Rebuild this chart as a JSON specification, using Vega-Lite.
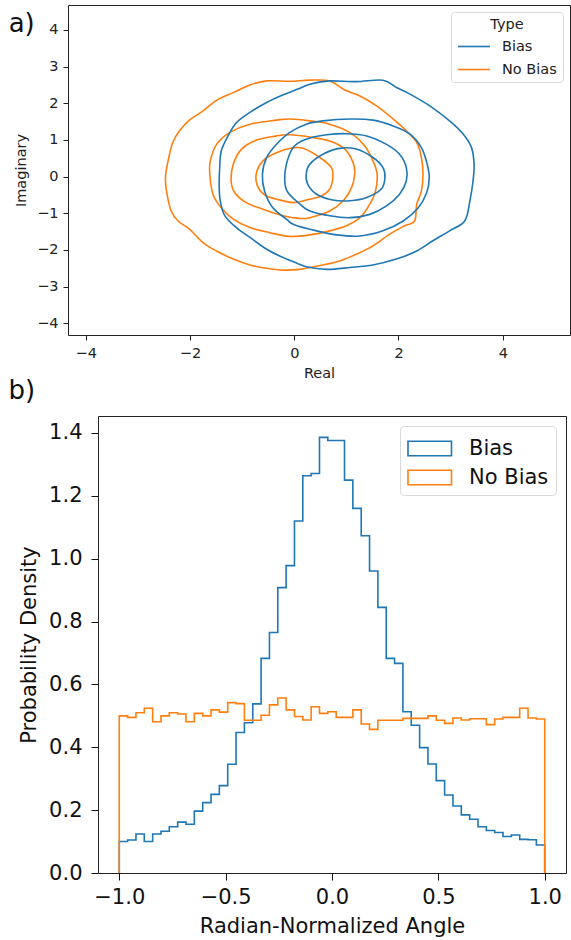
{
  "$schema": "https://vega.github.io/schema/vega-lite/v6.json",
  "background": "white",
  "padding": {"left": 8, "top": 4, "right": 0, "bottom": 0},
  "spacing": -4,
  "config": {
    "font": "DejaVu Sans",
    "view": {"stroke": "#222", "strokeWidth": 1},
    "axis": {"grid": false, "domain": false, "tickColor": "#222", "labelColor": "#222", "titleColor": "#222", "titleFontWeight": "normal"},
    "title": {"fontWeight": "normal", "color": "#111"}
  },
  "resolve": {"scale": {"color": "independent"}, "legend": {"color": "independent"}},
  "datasets": {
    "kde": [
      {"t":"No Bias","c":"O1","i":1,"x":0.68,"y":2.61},{"t":"No Bias","c":"O1","i":2,"x":0.30,"y":2.63},{"t":"No Bias","c":"O1","i":3,"x":-0.09,"y":2.60},{"t":"No Bias","c":"O1","i":4,"x":-0.53,"y":2.61},{"t":"No Bias","c":"O1","i":5,"x":-0.85,"y":2.50},{"t":"No Bias","c":"O1","i":6,"x":-1.17,"y":2.29},{"t":"No Bias","c":"O1","i":7,"x":-1.49,"y":2.08},{"t":"No Bias","c":"O1","i":8,"x":-1.75,"y":1.79},{"t":"No Bias","c":"O1","i":9,"x":-2.01,"y":1.54},{"t":"No Bias","c":"O1","i":10,"x":-2.20,"y":1.25},{"t":"No Bias","c":"O1","i":11,"x":-2.33,"y":0.93},{"t":"No Bias","c":"O1","i":12,"x":-2.42,"y":0.43},{"t":"No Bias","c":"O1","i":13,"x":-2.47,"y":-0.03},{"t":"No Bias","c":"O1","i":14,"x":-2.44,"y":-0.48},{"t":"No Bias","c":"O1","i":15,"x":-2.36,"y":-0.94},{"t":"No Bias","c":"O1","i":16,"x":-2.23,"y":-1.21},{"t":"No Bias","c":"O1","i":17,"x":-2.01,"y":-1.43},{"t":"No Bias","c":"O1","i":18,"x":-1.75,"y":-1.80},{"t":"No Bias","c":"O1","i":19,"x":-1.49,"y":-2.03},{"t":"No Bias","c":"O1","i":20,"x":-1.17,"y":-2.25},{"t":"No Bias","c":"O1","i":21,"x":-0.85,"y":-2.41},{"t":"No Bias","c":"O1","i":22,"x":-0.53,"y":-2.50},{"t":"No Bias","c":"O1","i":23,"x":-0.21,"y":-2.55},{"t":"No Bias","c":"O1","i":24,"x":0.10,"y":-2.53},{"t":"No Bias","c":"O1","i":25,"x":0.55,"y":-2.41},{"t":"No Bias","c":"O1","i":26,"x":0.87,"y":-2.30},{"t":"No Bias","c":"O1","i":27,"x":1.19,"y":-2.12},{"t":"No Bias","c":"O1","i":28,"x":1.51,"y":-1.89},{"t":"No Bias","c":"O1","i":29,"x":1.83,"y":-1.57},{"t":"No Bias","c":"O1","i":30,"x":2.12,"y":-1.34},{"t":"No Bias","c":"O1","i":31,"x":2.31,"y":-1.21},{"t":"No Bias","c":"O1","i":32,"x":2.35,"y":-0.75},{"t":"No Bias","c":"O1","i":33,"x":2.44,"y":-0.39},{"t":"No Bias","c":"O1","i":34,"x":2.47,"y":0.07},{"t":"No Bias","c":"O1","i":35,"x":2.44,"y":0.52},{"t":"No Bias","c":"O1","i":36,"x":2.35,"y":0.93},{"t":"No Bias","c":"O1","i":37,"x":2.15,"y":1.25},{"t":"No Bias","c":"O1","i":38,"x":1.90,"y":1.57},{"t":"No Bias","c":"O1","i":39,"x":1.58,"y":1.93},{"t":"No Bias","c":"O1","i":40,"x":1.26,"y":2.20},{"t":"No Bias","c":"O1","i":41,"x":0.97,"y":2.36},
      {"t":"No Bias","c":"O2","i":1,"x":0.68,"y":1.43},{"t":"No Bias","c":"O2","i":2,"x":0.30,"y":1.52},{"t":"No Bias","c":"O2","i":3,"x":-0.09,"y":1.57},{"t":"No Bias","c":"O2","i":4,"x":-0.34,"y":1.54},{"t":"No Bias","c":"O2","i":5,"x":-0.85,"y":1.43},{"t":"No Bias","c":"O2","i":6,"x":-1.24,"y":1.20},{"t":"No Bias","c":"O2","i":7,"x":-1.49,"y":0.88},{"t":"No Bias","c":"O2","i":8,"x":-1.61,"y":0.43},{"t":"No Bias","c":"O2","i":9,"x":-1.62,"y":0.07},{"t":"No Bias","c":"O2","i":10,"x":-1.56,"y":-0.48},{"t":"No Bias","c":"O2","i":11,"x":-1.40,"y":-0.85},{"t":"No Bias","c":"O2","i":12,"x":-1.17,"y":-1.16},{"t":"No Bias","c":"O2","i":13,"x":-0.85,"y":-1.39},{"t":"No Bias","c":"O2","i":14,"x":-0.47,"y":-1.53},{"t":"No Bias","c":"O2","i":15,"x":-0.09,"y":-1.63},{"t":"No Bias","c":"O2","i":16,"x":0.30,"y":-1.59},{"t":"No Bias","c":"O2","i":17,"x":0.68,"y":-1.48},{"t":"No Bias","c":"O2","i":18,"x":1.00,"y":-1.34},{"t":"No Bias","c":"O2","i":19,"x":1.26,"y":-1.12},{"t":"No Bias","c":"O2","i":20,"x":1.45,"y":-0.75},{"t":"No Bias","c":"O2","i":21,"x":1.56,"y":-0.39},{"t":"No Bias","c":"O2","i":22,"x":1.59,"y":0.07},{"t":"No Bias","c":"O2","i":23,"x":1.51,"y":0.43},{"t":"No Bias","c":"O2","i":24,"x":1.35,"y":0.84},{"t":"No Bias","c":"O2","i":25,"x":1.07,"y":1.20},
      {"t":"No Bias","c":"O3","i":1,"x":0.68,"y":0.97},{"t":"No Bias","c":"O3","i":2,"x":0.30,"y":1.08},{"t":"No Bias","c":"O3","i":3,"x":-0.09,"y":1.14},{"t":"No Bias","c":"O3","i":4,"x":-0.34,"y":1.11},{"t":"No Bias","c":"O3","i":5,"x":-0.73,"y":0.99},{"t":"No Bias","c":"O3","i":6,"x":-1.01,"y":0.75},{"t":"No Bias","c":"O3","i":7,"x":-1.17,"y":0.34},{"t":"No Bias","c":"O3","i":8,"x":-1.21,"y":-0.12},{"t":"No Bias","c":"O3","i":9,"x":-1.14,"y":-0.44},{"t":"No Bias","c":"O3","i":10,"x":-0.92,"y":-0.71},{"t":"No Bias","c":"O3","i":11,"x":-0.60,"y":-0.89},{"t":"No Bias","c":"O3","i":12,"x":-0.21,"y":-1.07},{"t":"No Bias","c":"O3","i":13,"x":0.10,"y":-1.14},{"t":"No Bias","c":"O3","i":14,"x":0.30,"y":-1.12},{"t":"No Bias","c":"O3","i":15,"x":0.68,"y":-0.94},{"t":"No Bias","c":"O3","i":16,"x":0.94,"y":-0.66},{"t":"No Bias","c":"O3","i":17,"x":1.10,"y":-0.30},{"t":"No Bias","c":"O3","i":18,"x":1.16,"y":0.07},{"t":"No Bias","c":"O3","i":19,"x":1.13,"y":0.38},{"t":"No Bias","c":"O3","i":20,"x":0.97,"y":0.75},
      {"t":"No Bias","c":"O4","i":1,"x":0.17,"y":0.77},{"t":"No Bias","c":"O4","i":2,"x":-0.05,"y":0.78},{"t":"No Bias","c":"O4","i":3,"x":-0.34,"y":0.65},{"t":"No Bias","c":"O4","i":4,"x":-0.60,"y":0.43},{"t":"No Bias","c":"O4","i":5,"x":-0.73,"y":0.07},{"t":"No Bias","c":"O4","i":6,"x":-0.69,"y":-0.30},{"t":"No Bias","c":"O4","i":7,"x":-0.53,"y":-0.53},{"t":"No Bias","c":"O4","i":8,"x":-0.21,"y":-0.66},{"t":"No Bias","c":"O4","i":9,"x":0.00,"y":-0.71},{"t":"No Bias","c":"O4","i":10,"x":0.23,"y":-0.64},{"t":"No Bias","c":"O4","i":11,"x":0.52,"y":-0.53},{"t":"No Bias","c":"O4","i":12,"x":0.68,"y":-0.34},{"t":"No Bias","c":"O4","i":13,"x":0.74,"y":-0.03},{"t":"No Bias","c":"O4","i":14,"x":0.71,"y":0.25},{"t":"No Bias","c":"O4","i":15,"x":0.49,"y":0.52},
      {"t":"Bias","c":"B1","i":1,"x":1.19,"y":2.59},{"t":"Bias","c":"B1","i":2,"x":0.68,"y":2.61},{"t":"Bias","c":"B1","i":3,"x":0.30,"y":2.52},{"t":"Bias","c":"B1","i":4,"x":0.11,"y":2.41},{"t":"Bias","c":"B1","i":5,"x":-0.21,"y":2.23},{"t":"Bias","c":"B1","i":6,"x":-0.53,"y":2.02},{"t":"Bias","c":"B1","i":7,"x":-0.85,"y":1.75},{"t":"Bias","c":"B1","i":8,"x":-1.11,"y":1.47},{"t":"Bias","c":"B1","i":9,"x":-1.27,"y":1.11},{"t":"Bias","c":"B1","i":10,"x":-1.40,"y":0.70},{"t":"Bias","c":"B1","i":11,"x":-1.43,"y":0.25},{"t":"Bias","c":"B1","i":12,"x":-1.44,"y":-0.21},{"t":"Bias","c":"B1","i":13,"x":-1.42,"y":-0.66},{"t":"Bias","c":"B1","i":14,"x":-1.33,"y":-1.07},{"t":"Bias","c":"B1","i":15,"x":-1.11,"y":-1.39},{"t":"Bias","c":"B1","i":16,"x":-0.85,"y":-1.66},{"t":"Bias","c":"B1","i":17,"x":-0.53,"y":-1.98},{"t":"Bias","c":"B1","i":18,"x":-0.21,"y":-2.21},{"t":"Bias","c":"B1","i":19,"x":0.05,"y":-2.36},{"t":"Bias","c":"B1","i":20,"x":0.23,"y":-2.46},{"t":"Bias","c":"B1","i":21,"x":0.62,"y":-2.53},{"t":"Bias","c":"B1","i":22,"x":1.07,"y":-2.48},{"t":"Bias","c":"B1","i":23,"x":1.51,"y":-2.41},{"t":"Bias","c":"B1","i":24,"x":1.96,"y":-2.25},{"t":"Bias","c":"B1","i":25,"x":2.35,"y":-2.03},{"t":"Bias","c":"B1","i":26,"x":2.66,"y":-1.75},{"t":"Bias","c":"B1","i":27,"x":2.98,"y":-1.48},{"t":"Bias","c":"B1","i":28,"x":3.27,"y":-1.21},{"t":"Bias","c":"B1","i":29,"x":3.37,"y":-0.66},{"t":"Bias","c":"B1","i":30,"x":3.43,"y":-0.12},{"t":"Bias","c":"B1","i":31,"x":3.45,"y":0.34},{"t":"Bias","c":"B1","i":32,"x":3.40,"y":0.79},{"t":"Bias","c":"B1","i":33,"x":3.24,"y":1.16},{"t":"Bias","c":"B1","i":34,"x":2.98,"y":1.52},{"t":"Bias","c":"B1","i":35,"x":2.60,"y":1.93},{"t":"Bias","c":"B1","i":36,"x":2.22,"y":2.25},{"t":"Bias","c":"B1","i":37,"x":1.96,"y":2.43},{"t":"Bias","c":"B1","i":38,"x":1.70,"y":2.63},
      {"t":"Bias","c":"B2","i":1,"x":1.07,"y":1.57},{"t":"Bias","c":"B2","i":2,"x":0.55,"y":1.52},{"t":"Bias","c":"B2","i":3,"x":0.23,"y":1.43},{"t":"Bias","c":"B2","i":4,"x":-0.09,"y":1.20},{"t":"Bias","c":"B2","i":5,"x":-0.34,"y":0.88},{"t":"Bias","c":"B2","i":6,"x":-0.53,"y":0.52},{"t":"Bias","c":"B2","i":7,"x":-0.61,"y":0.07},{"t":"Bias","c":"B2","i":8,"x":-0.57,"y":-0.39},{"t":"Bias","c":"B2","i":9,"x":-0.41,"y":-0.85},{"t":"Bias","c":"B2","i":10,"x":-0.15,"y":-1.16},{"t":"Bias","c":"B2","i":11,"x":0.00,"y":-1.31},{"t":"Bias","c":"B2","i":12,"x":0.43,"y":-1.48},{"t":"Bias","c":"B2","i":13,"x":0.81,"y":-1.59},{"t":"Bias","c":"B2","i":14,"x":1.26,"y":-1.62},{"t":"Bias","c":"B2","i":15,"x":1.70,"y":-1.48},{"t":"Bias","c":"B2","i":16,"x":2.09,"y":-1.21},{"t":"Bias","c":"B2","i":17,"x":2.38,"y":-0.85},{"t":"Bias","c":"B2","i":18,"x":2.54,"y":-0.44},{"t":"Bias","c":"B2","i":19,"x":2.59,"y":-0.03},{"t":"Bias","c":"B2","i":20,"x":2.55,"y":0.34},{"t":"Bias","c":"B2","i":21,"x":2.44,"y":0.79},{"t":"Bias","c":"B2","i":22,"x":2.22,"y":1.16},{"t":"Bias","c":"B2","i":23,"x":1.90,"y":1.38},{"t":"Bias","c":"B2","i":24,"x":1.51,"y":1.54},
      {"t":"Bias","c":"B3","i":1,"x":1.00,"y":1.17},{"t":"Bias","c":"B3","i":2,"x":0.62,"y":1.14},{"t":"Bias","c":"B3","i":3,"x":0.30,"y":1.05},{"t":"Bias","c":"B3","i":4,"x":0.04,"y":0.88},{"t":"Bias","c":"B3","i":5,"x":-0.09,"y":0.61},{"t":"Bias","c":"B3","i":6,"x":-0.18,"y":0.07},{"t":"Bias","c":"B3","i":7,"x":-0.14,"y":-0.39},{"t":"Bias","c":"B3","i":8,"x":0.11,"y":-0.75},{"t":"Bias","c":"B3","i":9,"x":0.30,"y":-0.94},{"t":"Bias","c":"B3","i":10,"x":0.68,"y":-1.07},{"t":"Bias","c":"B3","i":11,"x":1.07,"y":-1.12},{"t":"Bias","c":"B3","i":12,"x":1.45,"y":-1.03},{"t":"Bias","c":"B3","i":13,"x":1.77,"y":-0.80},{"t":"Bias","c":"B3","i":14,"x":2.02,"y":-0.48},{"t":"Bias","c":"B3","i":15,"x":2.15,"y":-0.12},{"t":"Bias","c":"B3","i":16,"x":2.15,"y":0.25},{"t":"Bias","c":"B3","i":17,"x":2.02,"y":0.61},{"t":"Bias","c":"B3","i":18,"x":1.77,"y":0.88},{"t":"Bias","c":"B3","i":19,"x":1.39,"y":1.11},
      {"t":"Bias","c":"B4","i":1,"x":0.87,"y":0.77},{"t":"Bias","c":"B4","i":2,"x":0.55,"y":0.61},{"t":"Bias","c":"B4","i":3,"x":0.30,"y":0.34},{"t":"Bias","c":"B4","i":4,"x":0.23,"y":0.07},{"t":"Bias","c":"B4","i":5,"x":0.26,"y":-0.21},{"t":"Bias","c":"B4","i":6,"x":0.43,"y":-0.48},{"t":"Bias","c":"B4","i":7,"x":0.74,"y":-0.64},{"t":"Bias","c":"B4","i":8,"x":1.07,"y":-0.66},{"t":"Bias","c":"B4","i":9,"x":1.39,"y":-0.57},{"t":"Bias","c":"B4","i":10,"x":1.67,"y":-0.34},{"t":"Bias","c":"B4","i":11,"x":1.74,"y":-0.03},{"t":"Bias","c":"B4","i":12,"x":1.70,"y":0.25},{"t":"Bias","c":"B4","i":13,"x":1.51,"y":0.52},{"t":"Bias","c":"B4","i":14,"x":1.19,"y":0.75}
    ],
    "hist": [
      {"t":"Bias","o":0,"x":-1,"d":0},
      {"t":"Bias","o":1,"x":-1,"d":0.100},{"t":"Bias","o":2,"x":-0.9608,"d":0.105},{"t":"Bias","o":3,"x":-0.9216,"d":0.124},{"t":"Bias","o":4,"x":-0.8824,"d":0.100},{"t":"Bias","o":5,"x":-0.8431,"d":0.124},{"t":"Bias","o":6,"x":-0.8039,"d":0.133},{"t":"Bias","o":7,"x":-0.7647,"d":0.147},{"t":"Bias","o":8,"x":-0.7255,"d":0.162},{"t":"Bias","o":9,"x":-0.6863,"d":0.155},{"t":"Bias","o":10,"x":-0.6471,"d":0.197},
      {"t":"Bias","o":11,"x":-0.6078,"d":0.224},{"t":"Bias","o":12,"x":-0.5686,"d":0.250},{"t":"Bias","o":13,"x":-0.5294,"d":0.278},{"t":"Bias","o":14,"x":-0.4902,"d":0.346},{"t":"Bias","o":15,"x":-0.4510,"d":0.447},{"t":"Bias","o":16,"x":-0.4118,"d":0.478},{"t":"Bias","o":17,"x":-0.3725,"d":0.538},{"t":"Bias","o":18,"x":-0.3333,"d":0.683},{"t":"Bias","o":19,"x":-0.2941,"d":0.765},{"t":"Bias","o":20,"x":-0.2549,"d":0.908},
      {"t":"Bias","o":21,"x":-0.2157,"d":0.978},{"t":"Bias","o":22,"x":-0.1765,"d":1.120},{"t":"Bias","o":23,"x":-0.1373,"d":1.264},{"t":"Bias","o":24,"x":-0.0980,"d":1.271},{"t":"Bias","o":25,"x":-0.0588,"d":1.386},{"t":"Bias","o":26,"x":-0.0196,"d":1.376},{"t":"Bias","o":27,"x":0.0196,"d":1.376},{"t":"Bias","o":28,"x":0.0588,"d":1.250},{"t":"Bias","o":29,"x":0.0980,"d":1.160},{"t":"Bias","o":30,"x":0.1373,"d":1.073},
      {"t":"Bias","o":31,"x":0.1765,"d":0.961},{"t":"Bias","o":32,"x":0.2157,"d":0.845},{"t":"Bias","o":33,"x":0.2549,"d":0.683},{"t":"Bias","o":34,"x":0.2941,"d":0.667},{"t":"Bias","o":35,"x":0.3333,"d":0.513},{"t":"Bias","o":36,"x":0.3725,"d":0.470},{"t":"Bias","o":37,"x":0.4118,"d":0.399},{"t":"Bias","o":38,"x":0.4510,"d":0.347},{"t":"Bias","o":39,"x":0.4902,"d":0.294},{"t":"Bias","o":40,"x":0.5294,"d":0.248},
      {"t":"Bias","o":41,"x":0.5686,"d":0.213},{"t":"Bias","o":42,"x":0.6078,"d":0.185},{"t":"Bias","o":43,"x":0.6471,"d":0.171},{"t":"Bias","o":44,"x":0.6863,"d":0.147},{"t":"Bias","o":45,"x":0.7255,"d":0.135},{"t":"Bias","o":46,"x":0.7647,"d":0.129},{"t":"Bias","o":47,"x":0.8039,"d":0.116},{"t":"Bias","o":48,"x":0.8431,"d":0.121},{"t":"Bias","o":49,"x":0.8824,"d":0.107},{"t":"Bias","o":50,"x":0.9216,"d":0.106},
      {"t":"Bias","o":51,"x":0.9608,"d":0.089},{"t":"Bias","o":52,"x":1,"d":0},
      {"t":"No Bias","o":0,"x":-1,"d":0},
      {"t":"No Bias","o":1,"x":-1,"d":0.500},{"t":"No Bias","o":2,"x":-0.9608,"d":0.495},{"t":"No Bias","o":3,"x":-0.9216,"d":0.510},{"t":"No Bias","o":4,"x":-0.8824,"d":0.524},{"t":"No Bias","o":5,"x":-0.8431,"d":0.481},{"t":"No Bias","o":6,"x":-0.8039,"d":0.500},{"t":"No Bias","o":7,"x":-0.7647,"d":0.510},{"t":"No Bias","o":8,"x":-0.7255,"d":0.506},{"t":"No Bias","o":9,"x":-0.6863,"d":0.481},{"t":"No Bias","o":10,"x":-0.6471,"d":0.508},
      {"t":"No Bias","o":11,"x":-0.6078,"d":0.500},{"t":"No Bias","o":12,"x":-0.5686,"d":0.519},{"t":"No Bias","o":13,"x":-0.5294,"d":0.512},{"t":"No Bias","o":14,"x":-0.4902,"d":0.542},{"t":"No Bias","o":15,"x":-0.4510,"d":0.539},{"t":"No Bias","o":16,"x":-0.4118,"d":0.486},{"t":"No Bias","o":17,"x":-0.3725,"d":0.486},{"t":"No Bias","o":18,"x":-0.3333,"d":0.502},{"t":"No Bias","o":19,"x":-0.2941,"d":0.535},{"t":"No Bias","o":20,"x":-0.2549,"d":0.557},
      {"t":"No Bias","o":21,"x":-0.2157,"d":0.519},{"t":"No Bias","o":22,"x":-0.1765,"d":0.498},{"t":"No Bias","o":23,"x":-0.1373,"d":0.487},{"t":"No Bias","o":24,"x":-0.0980,"d":0.529},{"t":"No Bias","o":25,"x":-0.0588,"d":0.508},{"t":"No Bias","o":26,"x":-0.0196,"d":0.513},{"t":"No Bias","o":27,"x":0.0196,"d":0.495},{"t":"No Bias","o":28,"x":0.0588,"d":0.495},{"t":"No Bias","o":29,"x":0.0980,"d":0.519},{"t":"No Bias","o":30,"x":0.1373,"d":0.474},
      {"t":"No Bias","o":31,"x":0.1765,"d":0.457},{"t":"No Bias","o":32,"x":0.2157,"d":0.486},{"t":"No Bias","o":33,"x":0.2549,"d":0.486},{"t":"No Bias","o":34,"x":0.2941,"d":0.486},{"t":"No Bias","o":35,"x":0.3333,"d":0.492},{"t":"No Bias","o":36,"x":0.3725,"d":0.492},{"t":"No Bias","o":37,"x":0.4118,"d":0.492},{"t":"No Bias","o":38,"x":0.4510,"d":0.500},{"t":"No Bias","o":39,"x":0.4902,"d":0.486},{"t":"No Bias","o":40,"x":0.5294,"d":0.476},
      {"t":"No Bias","o":41,"x":0.5686,"d":0.493},{"t":"No Bias","o":42,"x":0.6078,"d":0.487},{"t":"No Bias","o":43,"x":0.6471,"d":0.491},{"t":"No Bias","o":44,"x":0.6863,"d":0.491},{"t":"No Bias","o":45,"x":0.7255,"d":0.472},{"t":"No Bias","o":46,"x":0.7647,"d":0.490},{"t":"No Bias","o":47,"x":0.8039,"d":0.495},{"t":"No Bias","o":48,"x":0.8431,"d":0.495},{"t":"No Bias","o":49,"x":0.8824,"d":0.524},{"t":"No Bias","o":50,"x":0.9216,"d":0.493},
      {"t":"No Bias","o":51,"x":0.9608,"d":0.490},{"t":"No Bias","o":52,"x":1,"d":0}
    ]
  },
  "vconcat": [
    {
      "width": 502,
      "height": 330,
      "title": {"text": "a)", "anchor": "start", "frame": "bounds", "fontSize": 26, "dx": -5, "dy": 32, "offset": 0},
      "data": {"name": "kde"},
      "mark": {"type": "line", "interpolate": "cardinal-closed", "strokeWidth": 1.6},
      "encoding": {
        "x": {"field": "x", "type": "quantitative", "scale": {"domain": [-4.34, 5.29], "nice": false, "zero": false},
              "axis": {"title": "Real", "values": [-4, -2, 0, 2, 4], "format": "d", "labelFontSize": 14.5, "titleFontSize": 14.5, "tickSize": 5, "labelPadding": 6, "titlePadding": 7}},
        "y": {"field": "y", "type": "quantitative", "scale": {"domain": [-4.32, 4.68], "nice": false, "zero": false},
              "axis": {"title": "Imaginary", "values": [-4, -3, -2, -1, 0, 1, 2, 3, 4], "format": "d", "labelFontSize": 14.5, "titleFontSize": 14.5, "tickSize": 5, "labelPadding": 5, "titlePadding": 8}},
        "color": {"field": "t", "type": "nominal", "scale": {"domain": ["Bias", "No Bias"], "range": ["#1f77b4", "#ff7f0e"]},
                  "legend": {"orient": "top-right", "offset": 7, "title": "Type", "titleAnchor": "middle", "titleFontSize": 14.5, "titleFontWeight": "normal", "titleColor": "#222", "labelFontSize": 14.5, "labelColor": "#222", "symbolType": "M-1,0H3", "symbolSize": 256, "symbolStrokeWidth": 1.6, "fillColor": "white", "strokeColor": "#d9d9d9", "cornerRadius": 3, "padding": 6, "rowPadding": 7, "labelOffset": 27, "titlePadding": 5}},
        "detail": {"field": "c", "type": "nominal"},
        "order": {"field": "i", "type": "quantitative"}
      }
    },
    {
      "spacing": -61,
      "resolve": {"scale": {"color": "independent"}, "legend": {"color": "independent"}},
      "hconcat": [
        {"width": 1, "height": 1, "data": {"values": []}, "mark": {"type": "point", "opacity": 0}, "view": {"stroke": null}},
        {
          "width": 468,
          "height": 457,
          "title": {"text": "b)", "anchor": "start", "frame": "bounds", "fontSize": 26, "dx": -10, "offset": 12},
          "data": {"name": "hist"},
          "mark": {"type": "line", "interpolate": "step-after", "strokeWidth": 1.6},
          "encoding": {
            "x": {"field": "x", "type": "quantitative", "scale": {"domain": [-1.1, 1.1], "nice": false, "zero": false},
                  "axis": {"title": "Radian-Normalized Angle", "values": [-1, -0.5, 0, 0.5, 1], "format": ".1f", "labelFontSize": 21, "titleFontSize": 21, "tickSize": 7, "labelPadding": 6, "titlePadding": 8, "labelColor": "#111", "titleColor": "#111", "tickColor": "#111"}},
            "y": {"field": "d", "type": "quantitative", "scale": {"domain": [0, 1.454], "nice": false},
                  "axis": {"title": "Probability Density", "values": [0, 0.2, 0.4, 0.6, 0.8, 1.0, 1.2, 1.4], "format": ".1f", "labelFontSize": 21, "titleFontSize": 21, "tickSize": 7, "labelPadding": 9, "titlePadding": 9, "labelColor": "#111", "titleColor": "#111", "tickColor": "#111"}},
            "color": {"field": "t", "type": "nominal", "scale": {"domain": ["Bias", "No Bias"], "range": ["#1f77b4", "#ff7f0e"]},
                      "legend": {"orient": "top-right", "offset": 10, "title": null, "labelFontSize": 21, "labelColor": "#111", "symbolType": "M-1,-0.5H2V0.5H-1Z", "symbolSize": 841, "symbolStrokeWidth": 1.6, "symbolFillColor": "transparent", "fillColor": "white", "strokeColor": "#d9d9d9", "cornerRadius": 4, "padding": 7, "rowPadding": 3, "labelOffset": 31}},
            "order": {"field": "o", "type": "quantitative"}
          }
        }
      ]
    }
  ]
}
